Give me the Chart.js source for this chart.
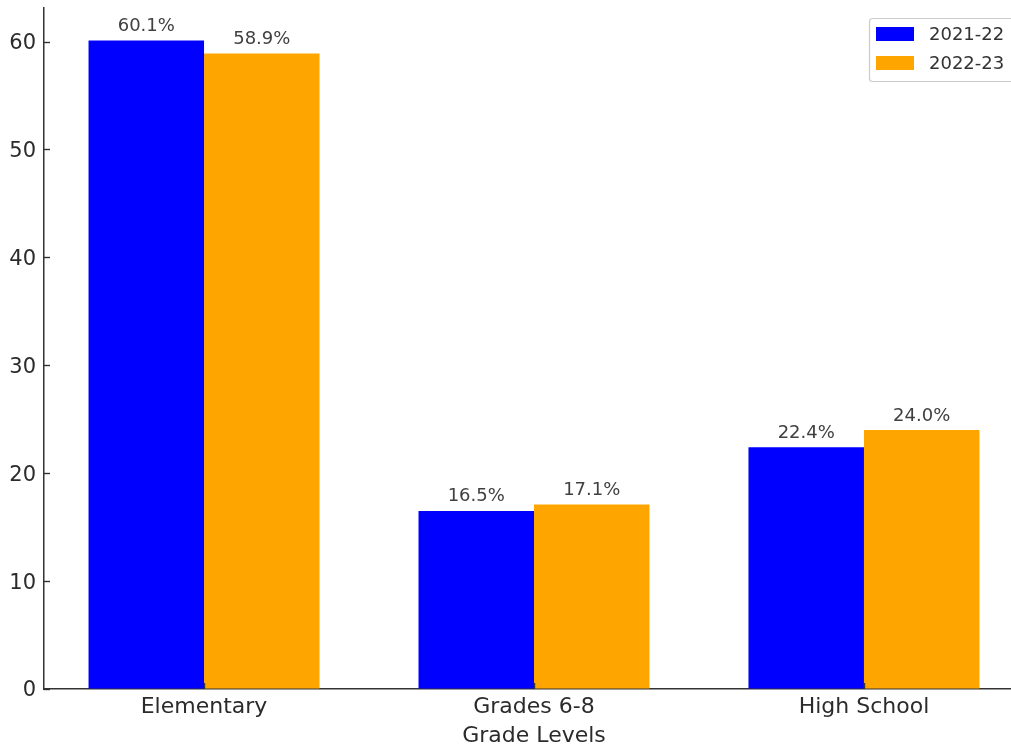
<!DOCTYPE html>
<html>
<head>
<meta charset="utf-8">
<script src="https://cdn.jsdelivr.net/npm/chart.js@4.4.1/dist/chart.umd.min.js"></script>
<style>
  html, body { margin: 0; padding: 0; overflow: hidden; background: #fff; width: 1011px; height: 746px; }
  #wrap { position: absolute; left: 0; top: 0; width: 1024px; height: 746px; }
</style>
</head>
<body>
<div id="wrap"><canvas id="c"></canvas></div>
<script>
// Share of students by grade level, two school years
const categories = ['Elementary', 'Grades 6-8', 'High School'];
const seriesNames = ['2021-22', '2022-23'];
const values2122 = [60.1, 16.5, 22.4];
const values2223 = [58.9, 17.1, 24.0];
const yTickValues = [0, 10, 20, 30, 40, 50, 60];
const seriesColors = ['#0000ff', '#ffa500'];

const FONT = '"DejaVu Sans", "Liberation Sans", sans-serif';
const TEXT = '#2b2b2b';
const AXIS = '#333333';

// short tick marks pointing into the plot area
const innerTicks = {
  id: 'innerTicks',
  afterDatasetsDraw(chart) {
    const { ctx, chartArea: a, scales: { x, y } } = chart;
    ctx.save();
    ctx.strokeStyle = AXIS;
    ctx.lineWidth = 1.4;
    y.ticks.forEach(t => {
      const py = Math.round(y.getPixelForValue(t.value)) + 0.5;
      ctx.beginPath(); ctx.moveTo(a.left, py); ctx.lineTo(a.left + 6, py); ctx.stroke();
    });
    x.ticks.forEach(t => {
      const px = Math.round(x.getPixelForValue(t.value)) + 0.5;
      ctx.beginPath(); ctx.moveTo(px, a.bottom); ctx.lineTo(px, a.bottom - 6); ctx.stroke();
    });
    ctx.restore();
  }
};

// percentage text above every bar
const barValueLabels = {
  id: 'barValueLabels',
  afterDatasetsDraw(chart) {
    const { ctx } = chart;
    ctx.save();
    ctx.font = '18px ' + FONT;
    ctx.fillStyle = '#404040';
    ctx.textAlign = 'center';
    ctx.textBaseline = 'alphabetic';
    chart.data.datasets.forEach((ds, di) => {
      chart.getDatasetMeta(di).data.forEach((el, i) => {
        ctx.fillText(ds.data[i].y.toFixed(1) + '%', el.x, el.y - 9.5);
      });
    });
    ctx.restore();
  }
};

// boxed legend in the upper right corner of the plot
const boxLegend = {
  id: 'boxLegend',
  afterDraw(chart) {
    const { ctx, chartArea: a } = chart;
    const boxRight = a.right - 7, boxTop = a.top + 10;
    const boxLeft = 869, boxBottom = boxTop + 63;
    ctx.save();
    ctx.fillStyle = 'rgba(255,255,255,0.85)';
    ctx.strokeStyle = '#cccccc';
    ctx.lineWidth = 1.2;
    ctx.beginPath();
    ctx.roundRect(boxLeft + 0.5, boxTop + 0.5, boxRight - boxLeft, boxBottom - boxTop, 3);
    ctx.fill(); ctx.stroke();
    ctx.font = '18px ' + FONT;
    ctx.textBaseline = 'middle';
    ctx.textAlign = 'left';
    chart.data.datasets.forEach((ds, i) => {
      const cy = boxTop + 16 + i * 29;
      ctx.fillStyle = ds.backgroundColor;
      ctx.fillRect(876, cy - 7, 38, 14);
      ctx.fillStyle = '#333333';
      ctx.fillText(ds.label, 929, cy + 1);
    });
    ctx.restore();
  }
};

const toPoints = arr => arr.map((v, i) => ({ x: i, y: v }));

new Chart(document.getElementById('c'), {
  type: 'bar',
  data: {
    datasets: [
      { label: seriesNames[0], data: toPoints(values2122), backgroundColor: seriesColors[0] },
      { label: seriesNames[1], data: toPoints(values2223), backgroundColor: seriesColors[1] }
    ]
  },
  options: {
    responsive: true,
    maintainAspectRatio: false,
    animation: false,
    devicePixelRatio: 1,
    categoryPercentage: 0.7,
    barPercentage: 1.0,
    layout: { padding: { top: 8, left: 0, right: 0, bottom: 0 } },
    plugins: { legend: { display: false }, tooltip: { enabled: false } },
    scales: {
      x: {
        type: 'linear',
        offset: false,
        min: -0.485,
        max: 2.485,
        afterBuildTicks: s => { s.ticks = categories.map((_, i) => ({ value: i })); },
        afterFit: s => { s.height = 57; s.paddingLeft = 0; s.paddingRight = 0; },
        ticks: {
          callback: v => categories[v],
          font: { family: FONT, size: 22 },
          color: TEXT,
          padding: 5,
          autoSkip: false,
          maxRotation: 0
        },
        grid: { display: true, offset: false, drawOnChartArea: false, drawTicks: false },
        border: { display: true, color: AXIS, width: 1.5 },
        title: {
          display: true,
          text: 'Grade Levels',
          font: { family: FONT, size: 22 },
          color: TEXT,
          padding: { top: 0, bottom: -3 }
        }
      },
      y: {
        min: 0,
        max: 63.105,
        afterBuildTicks: s => { s.ticks = yTickValues.map(v => ({ value: v })); },
        afterFit: s => { s.width = 44; s.paddingTop = 0; s.paddingBottom = 0; },
        ticks: {
          font: { family: FONT, size: 21 },
          color: TEXT,
          padding: 8,
          labelOffset: 2
        },
        grid: { display: true, drawOnChartArea: false, drawTicks: false },
        border: { display: true, color: AXIS, width: 1.5 }
      }
    }
  },
  plugins: [innerTicks, barValueLabels, boxLegend]
});
</script>
</body>
</html>
